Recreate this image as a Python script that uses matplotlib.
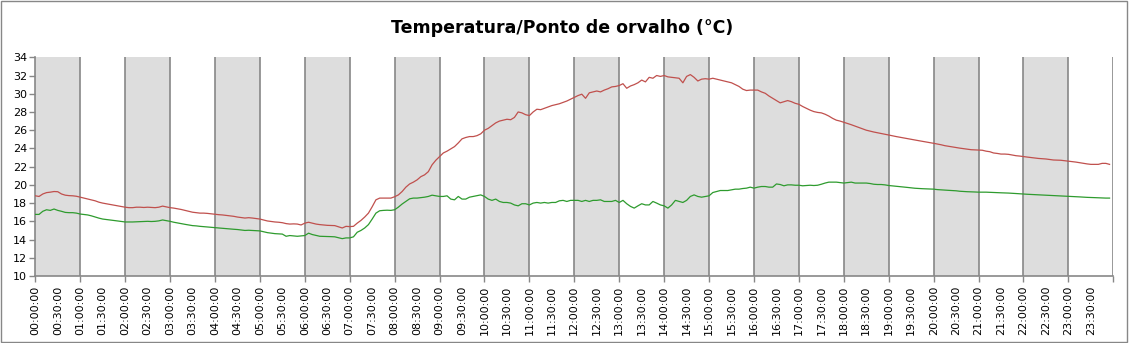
import numpy as np
import pandas as pd
import matplotlib
matplotlib.use("Agg")
import matplotlib.pyplot as plt
from matplotlib.patches import Rectangle

# temperatura (vermelho), leituras a cada 5 minutos a partir de 00:00
temperatura = [
    18.8, 18.73, 19.0, 19.15, 19.2, 19.27, 19.25, 19.0, 18.87, 18.82, 18.8, 18.75,
    18.65, 18.55, 18.45, 18.35, 18.25, 18.1, 18.0, 17.92, 17.85, 17.78, 17.7, 17.62,
    17.55, 17.5, 17.5, 17.55, 17.55, 17.52, 17.55, 17.52, 17.5, 17.55, 17.67, 17.58,
    17.5, 17.45, 17.38, 17.3, 17.2, 17.1, 17.0, 16.95, 16.9, 16.9, 16.87, 16.82,
    16.76, 16.73, 16.7, 16.65, 16.6, 16.55, 16.47, 16.42, 16.36, 16.4, 16.36, 16.3,
    16.25, 16.15, 16.04, 15.98, 15.93, 15.9, 15.85, 15.75, 15.7, 15.72, 15.7, 15.6,
    15.8, 15.9, 15.8, 15.7, 15.64, 15.6, 15.56, 15.55, 15.53, 15.4, 15.27, 15.45,
    15.42, 15.45, 15.8, 16.1, 16.47, 16.9, 17.6, 18.36, 18.55, 18.55, 18.55, 18.55,
    18.7, 18.9, 19.27, 19.75, 20.1, 20.3, 20.55, 20.9, 21.1, 21.45, 22.2, 22.7,
    23.1, 23.5, 23.7, 23.95, 24.2, 24.6, 25.05, 25.2, 25.3, 25.3, 25.4, 25.6,
    26.0, 26.2, 26.5, 26.8, 27.0, 27.1, 27.2, 27.15, 27.4, 28.0, 27.9, 27.7,
    27.6, 28.0, 28.3, 28.25, 28.4, 28.55, 28.7, 28.8, 28.9, 29.05, 29.2, 29.4,
    29.6, 29.8, 29.95, 29.5, 30.1, 30.2, 30.3, 30.2, 30.4, 30.55, 30.75, 30.8,
    30.9, 31.1, 30.6, 30.85, 31.0, 31.2, 31.5, 31.3, 31.8, 31.7, 32.0, 31.9,
    32.0, 31.85, 31.8, 31.75, 31.7, 31.2, 31.9, 32.1, 31.8, 31.4, 31.6, 31.65,
    31.6, 31.7, 31.6, 31.5, 31.4, 31.3, 31.2, 31.0, 30.8, 30.5, 30.35, 30.4,
    30.4, 30.4, 30.2, 30.05, 29.75, 29.5, 29.25, 29.0, 29.13, 29.25, 29.13, 28.95,
    28.84, 28.6, 28.4, 28.2, 28.04, 27.95, 27.9, 27.75, 27.55, 27.3, 27.1, 27.0,
    26.87, 26.75, 26.6, 26.45, 26.3, 26.15, 26.0, 25.9, 25.8, 25.72, 25.65, 25.55,
    25.47, 25.38, 25.3, 25.22, 25.15, 25.08, 25.0, 24.92, 24.85, 24.78, 24.7, 24.63,
    24.56, 24.48, 24.4, 24.3, 24.23, 24.15, 24.1, 24.03, 23.97, 23.9, 23.86, 23.84,
    23.82, 23.8, 23.7, 23.64, 23.5, 23.45, 23.38, 23.38, 23.35, 23.27, 23.2, 23.16,
    23.1, 23.05, 23.0, 22.95, 22.9, 22.87, 22.84, 22.78, 22.73, 22.72, 22.7, 22.65,
    22.6, 22.55, 22.5, 22.43, 22.36, 22.3, 22.25, 22.25, 22.25, 22.36, 22.36, 22.25,
]

# ponto de orvalho (verde)
orvalho = [
    16.76, 16.76, 17.1, 17.27, 17.2, 17.35, 17.2, 17.1, 16.98, 16.95, 16.95, 16.9,
    16.8, 16.75, 16.7, 16.6, 16.47, 16.35, 16.25, 16.2, 16.15, 16.1, 16.04, 15.98,
    15.93, 15.93, 15.93, 15.95, 15.96, 15.98, 16.0, 15.98, 16.0, 16.05, 16.15, 16.08,
    16.0, 15.9, 15.82, 15.75, 15.67, 15.6, 15.53, 15.5, 15.45, 15.42, 15.38, 15.34,
    15.3, 15.27, 15.24, 15.2, 15.16, 15.13, 15.1, 15.05, 15.0, 15.02, 15.0, 14.97,
    14.95, 14.85, 14.76, 14.7, 14.65, 14.62, 14.6, 14.36, 14.44, 14.4, 14.36, 14.4,
    14.44, 14.7, 14.55, 14.45, 14.36, 14.35, 14.33, 14.32, 14.3, 14.2, 14.1, 14.18,
    14.18, 14.3, 14.8, 15.0, 15.27, 15.64, 16.25, 16.9, 17.16, 17.2, 17.22, 17.2,
    17.27, 17.56, 17.9, 18.18, 18.47, 18.55, 18.55, 18.6, 18.65, 18.73, 18.87, 18.8,
    18.73, 18.73, 18.8, 18.44, 18.36, 18.73, 18.44, 18.44, 18.65, 18.73, 18.8, 18.9,
    18.73, 18.44, 18.3, 18.44, 18.18, 18.07, 18.07, 18.0, 17.8, 17.7, 17.93, 17.93,
    17.8, 18.0, 18.07, 18.0, 18.07, 18.0, 18.07, 18.07, 18.25, 18.3, 18.18, 18.3,
    18.3, 18.3, 18.18, 18.3, 18.18, 18.3, 18.3, 18.36, 18.18, 18.18, 18.18, 18.3,
    18.07, 18.3, 17.93, 17.64, 17.45, 17.7, 17.93, 17.8, 17.8, 18.18, 18.0, 17.8,
    17.7, 17.45, 17.8, 18.3, 18.18, 18.07, 18.3, 18.73, 18.9, 18.73, 18.65, 18.73,
    18.8, 19.16, 19.27, 19.38, 19.38, 19.38, 19.45, 19.53, 19.53, 19.6, 19.64, 19.75,
    19.64, 19.75, 19.82, 19.82, 19.75, 19.75, 20.1, 20.04, 19.9, 20.0, 20.0, 19.96,
    19.96, 19.9, 19.93, 19.96, 19.93, 19.96, 20.07, 20.2, 20.3, 20.3, 20.3, 20.25,
    20.2, 20.25, 20.3, 20.2, 20.2, 20.2, 20.2, 20.15, 20.07, 20.04, 20.04, 20.0,
    19.93, 19.89, 19.85, 19.82, 19.78, 19.72, 19.67, 19.63, 19.6, 19.58, 19.56, 19.55,
    19.53, 19.48, 19.45, 19.42, 19.4, 19.38, 19.35, 19.3, 19.27, 19.25, 19.24, 19.22,
    19.2, 19.2, 19.2, 19.18, 19.16, 19.15, 19.13, 19.12, 19.1, 19.08, 19.05, 19.02,
    18.98, 18.97, 18.95, 18.92, 18.9, 18.88, 18.87, 18.85, 18.84, 18.82, 18.8, 18.78,
    18.76, 18.73, 18.7, 18.68, 18.65, 18.63, 18.62, 18.6, 18.58, 18.56, 18.55, 18.55,
]

horas = pd.timedelta_range("0h", periods=len(temperatura), freq="5min")
x = horas.total_seconds() / 3600.0

rotulos_x = ["%02d:%02d:00" % (h, m) for h in range(24) for m in (0, 30)]

fig = plt.figure(figsize=(11.3, 3.43), dpi=100)
ax = fig.add_axes([0.03124, 0.1953, 0.9540, 0.6377])

# faixas cinzentas em horas pares e linhas verticais a cada hora
for h in range(0, 24, 2):
    ax.axvspan(h, h + 1, color="#dddddd", lw=0, zorder=0)
for h in range(1, 25):
    ax.axvline(h, color="#878787", lw=1.2, zorder=1)

ax.plot(x, temperatura, color="#c0504d", lw=0.9, zorder=3)
ax.plot(x, orvalho, color="#2e9b2e", lw=0.9, zorder=3)

ax.set_xlim(0, 24)
ax.set_ylim(10, 34)
ax.set_yticks(range(10, 35, 2))

ax.set_xticks(range(0, 25))
ax.set_xticklabels([rotulos_x[2 * h] if h < 24 else "" for h in range(25)])
ax.set_xticks(np.arange(0.5, 24, 1), minor=True)
ax.set_xticklabels([rotulos_x[2 * h + 1] for h in range(24)], minor=True)
ax.tick_params(axis="x", which="major", length=4, width=1, color="#878787",
               labelsize=8, rotation=90, pad=3)
ax.tick_params(axis="x", which="minor", length=0, labelsize=8, rotation=90, pad=7)
ax.tick_params(axis="y", length=4, width=1, color="#878787", labelsize=8, pad=2)

for lado in ("top", "right"):
    ax.spines[lado].set_visible(False)
for lado in ("left", "bottom"):
    ax.spines[lado].set_color("#878787")
    ax.spines[lado].set_linewidth(1.2)

fig.text(0.4973, 0.918, "Temperatura/Ponto de orvalho (°C)", ha="center", va="center",
         fontsize=12.5, fontweight="bold", family="DejaVu Sans")

fig.patches.append(Rectangle((0.001, 0.002), 0.996, 0.995, transform=fig.transFigure,
                             fill=False, edgecolor="#878787", lw=1.0))

fig.savefig("out.png", dpi=100)
